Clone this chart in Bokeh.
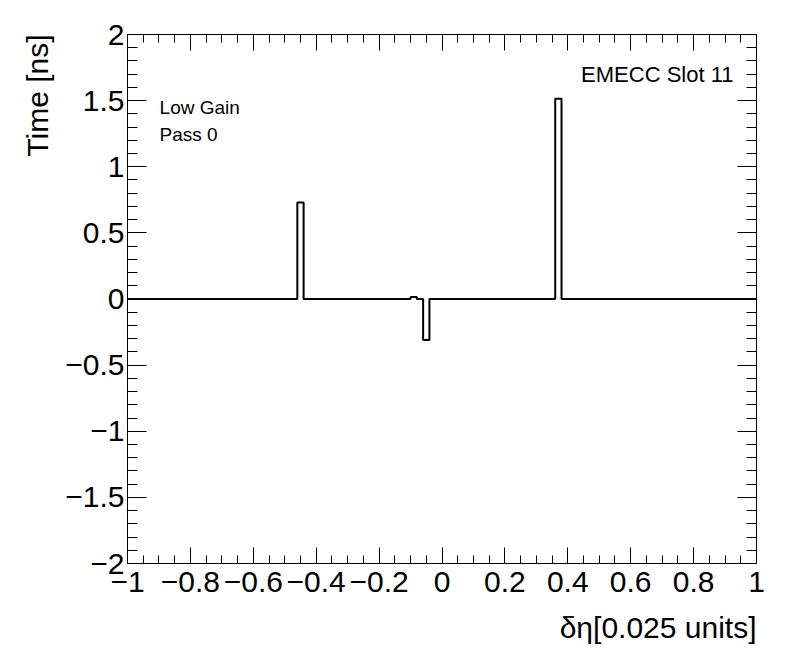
import numpy as np
from bokeh.plotting import figure
from bokeh.models import (Range1d, LinearAxis, FixedTicker, Label, Title,
                          CustomLabelingPolicy)
from bokeh.embed import file_html
from bokeh.resources import INLINE

# ---- data ----
x_min, x_max, n_bins = -1.0, 1.0, 100
bin_values = [
    0, 0, 0, 0, 0, 0, 0, 0, 0, 0,
    0, 0, 0, 0, 0, 0, 0, 0, 0, 0,
    0, 0, 0, 0, 0, 0, 0, 0.73, 0, 0,
    0, 0, 0, 0, 0, 0, 0, 0, 0, 0,
    0, 0, 0, 0, 0, 0.015, 0, -0.31, 0, 0,
    0, 0, 0, 0, 0, 0, 0, 0, 0, 0,
    0, 0, 0, 0, 0, 0, 0, 0, 1.515, 0,
    0, 0, 0, 0, 0, 0, 0, 0, 0, 0,
    0, 0, 0, 0, 0, 0, 0, 0, 0, 0,
    0, 0, 0, 0, 0, 0, 0, 0, 0, 0,
]
x_ticks = [-1, -0.8, -0.6, -0.4, -0.2, 0, 0.2, 0.4, 0.6, 0.8, 1]
x_tick_labels = ["\u22121", "\u22120.8", "\u22120.6", "\u22120.4", "\u22120.2", "0",
                 "0.2", "0.4", "0.6", "0.8", "1"]
y_ticks = [-2, -1.5, -1, -0.5, 0, 0.5, 1, 1.5, 2]
y_tick_labels = ["\u22122", "\u22121.5", "\u22121", "\u22120.5", "0", "0.5", "1", "1.5", "2"]
x_title = "\u03b4\u03b7[0.025 units]"
y_title = "Time [ns]"
texts = ["EMECC Slot 11", "Low Gain", "Pass 0"]

FONT = "Liberation Sans"

edges = np.linspace(x_min, x_max, n_bins + 1)
step_y = list(bin_values) + [bin_values[-1]]

x_minor = [round(v, 4) for v in np.arange(-1.0, 1.0001, 0.05)]
y_minor = [round(v, 4) for v in np.arange(-2.0, 2.0001, 0.1)]

p = figure(frame_width=629, frame_height=529,
           x_range=Range1d(-1, 1), y_range=Range1d(-2, 2),
           output_backend="svg", toolbar_location=None,
           min_border_left=127, min_border_right=32,
           min_border_top=34, min_border_bottom=101)
p.grid.visible = False
p.outline_line_color = None
p.background_fill_color = "white"
p.border_fill_color = "white"

p.step(edges, step_y, mode="after", line_color="black", line_width=2)

no_labels = CustomLabelingPolicy(code="return new Set()")

def style_axis(ax, ticks, minor, labels, tick_len, show_labels):
    ax.ticker = FixedTicker(ticks=ticks, minor_ticks=minor)
    ax.axis_line_color = "black"
    ax.axis_line_width = 1
    ax.major_tick_line_color = "black"
    ax.minor_tick_line_color = "black"
    ax.major_tick_in = int(tick_len)
    ax.major_tick_out = 0
    ax.minor_tick_in = int(round(tick_len / 2))
    ax.minor_tick_out = 0
    ax.major_label_text_font = FONT
    ax.major_label_text_color = "black"
    if show_labels:
        ax.major_label_overrides = {t: l for t, l in zip(ticks, labels)}
        ax.major_label_text_font_size = "30px"
    else:
        ax.major_label_policy = no_labels
        ax.major_label_text_font_size = "2px"
        ax.major_label_standoff = 0

xb = p.xaxis[0]
yl = p.yaxis[0]
style_axis(xb, x_ticks, x_minor, x_tick_labels, 16, True)
style_axis(yl, y_ticks, y_minor, y_tick_labels, 19, True)
xb.major_label_standoff = 8
yl.major_label_standoff = 3

xa = LinearAxis()
style_axis(xa, x_ticks, x_minor, x_tick_labels, 16, False)
p.add_layout(xa, "above")
yr = LinearAxis()
style_axis(yr, y_ticks, y_minor, y_tick_labels, 19, False)
p.add_layout(yr, "right")

p.add_layout(Title(text=x_title, align="right", text_font=FONT, text_font_size="30px",
                   text_font_style="normal", text_color="black", standoff=29), "below")
p.add_layout(Title(text=y_title, align="right", text_font=FONT, text_font_size="30px",
                   text_font_style="normal", text_color="black", standoff=18), "left")

p.add_layout(Label(x=0.927, y=1.697, text=texts[0], text_font=FONT, text_font_size="22px",
                   text_align="right", text_baseline="alphabetic", text_color="black"))
p.add_layout(Label(x=-0.898, y=1.448, text=texts[1], text_font=FONT, text_font_size="19px",
                   text_align="left", text_baseline="alphabetic", text_color="black"))
p.add_layout(Label(x=-0.898, y=1.244, text=texts[2], text_font=FONT, text_font_size="19px",
                   text_align="left", text_baseline="alphabetic", text_color="black"))

open("out.html", "w").write(file_html(p, INLINE))
